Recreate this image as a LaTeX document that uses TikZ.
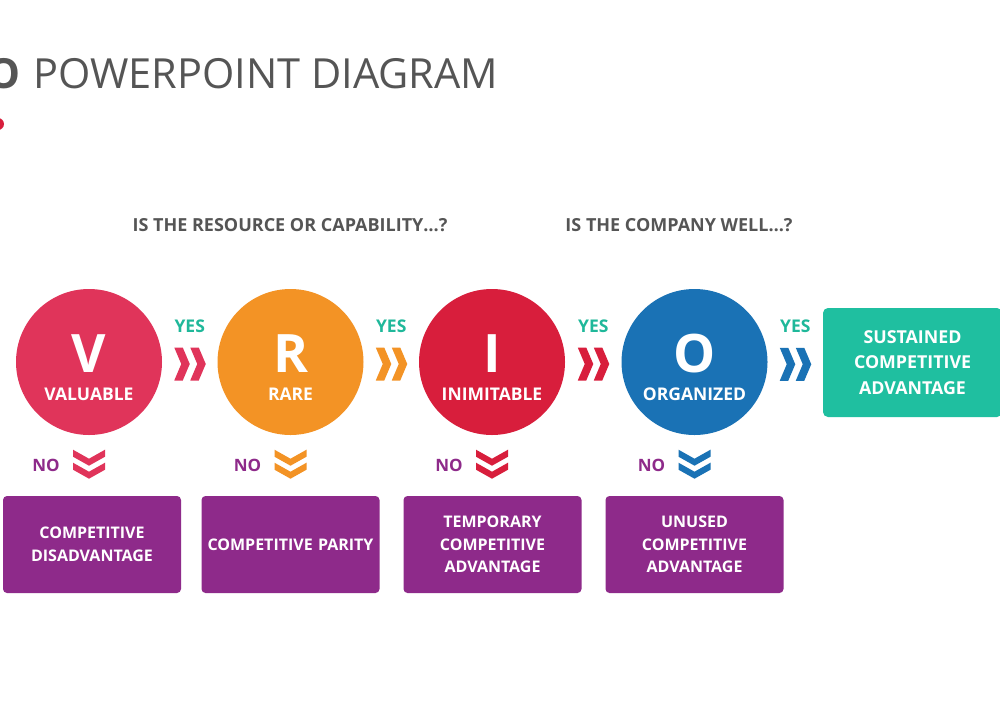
\documentclass[tikz,border=0pt]{standalone}
\usepackage{fontspec}
\setmainfont{Open Sans}
\usetikzlibrary{calc}
\definecolor{cV}{HTML}{E0345A}
\definecolor{cR}{HTML}{F39325}
\definecolor{cI}{HTML}{D81E3C}
\definecolor{cO}{HTML}{1A72B5}
\definecolor{cGreen}{HTML}{1FBFA0}
\definecolor{cPurple}{HTML}{8E2A8A}
\definecolor{cTeal}{HTML}{1FB89A}
\definecolor{cGray}{HTML}{555555}
\begin{document}
\begin{tikzpicture}[x=1pt,y=-1pt,
  letter/.style={text=white,font=\fontsize{53}{53}\selectfont\bfseries,inner sep=0},
  circlabel/.style={text=white,font=\fontsize{17.5}{17.5}\selectfont\bfseries,inner sep=0},
  bigcirc/.style={circle,minimum size=146pt,inner sep=0},
  yeslabel/.style={text=cTeal,font=\fontsize{17.5}{17.5}\selectfont\bfseries,inner sep=0},
  nolabel/.style={text=cPurple,font=\fontsize{17}{17}\selectfont\bfseries,inner sep=0},
  resultbox/.style={fill=cPurple,rounded corners=4pt,minimum width=178pt,minimum height=97pt,
    text width=174pt,align=center,text=white,font=\fontsize{16}{22.5}\selectfont\bfseries,inner sep=0},
  header/.style={text=cGray,font=\fontsize{18}{18}\selectfont\bfseries,inner sep=0},
  pics/rchev/.style={code={
    \foreach \d in {0,16}{
      \fill[#1] (-15.5+\d,-16.5) -- ++(8.5,0) -- ++(7,16.5) -- ++(-7,16.5) -- ++(-8.5,0) -- ++(7,-16.5) -- cycle;}}},
  pics/dchev/.style={code={
    \foreach \d in {0,13}{
      \fill[#1] (-16,-14.5+\d) -- (0,-5.5+\d) -- (16,-14.5+\d) -- (16,-7.5+\d) -- (0,1.5+\d) -- (-16,-7.5+\d) -- cycle;}}}
]
\clip (0,0) rectangle (1000,720);
\fill[white] (0,0) rectangle (1000,720);

% title
\node[anchor=base west,inner sep=0,text=cGray,font=\fontsize{41.5}{41.5}\selectfont] (title) at (33,88) {POWERPOINT DIAGRAM};
\node[anchor=base east,inner sep=0,text=cGray,font=\fontsize{41.5}{41.5}\selectfont\bfseries] (titleo) at (21,88) {O};
\fill[cI] (-2,124) circle (6);

% headers
\node[header] (h1) at (290,225) {IS THE RESOURCE OR CAPABILITY…?};
\node[header] (h2) at (679,225) {IS THE COMPANY WELL…?};

% circles
\node[bigcirc,fill=cV] (v) at (89,362) {};
\node[bigcirc,fill=cR] (r) at (290.5,362) {};
\node[bigcirc,fill=cI] (i) at (492,362) {};
\node[bigcirc,fill=cO] (o) at (694.5,362) {};

\foreach \n/\L/\W in {v/V/VALUABLE,r/R/RARE,i/I/INIMITABLE,o/O/ORGANIZED}{
  \node[letter] (\n-let) at ($(\n.center)+(0,-8)$) {\L};
  \node[circlabel] (\n-lab) at ($(\n.center)+(0,32)$) {\W};
}

% final box
\node[fill=cGreen,rounded corners=5pt,minimum width=179pt,minimum height=109pt,text width=177pt,align=center,
  text=white,font=\fontsize{17.8}{25.5}\selectfont\bfseries,inner sep=0] (sca) at (912.5,362.5)
  {SUSTAINED\\COMPETITIVE\\ADVANTAGE};

% yes chevrons
\pic at ($(v.east)!0.5!(r.west)+(0,2)$) {rchev=cV};
\pic at ($(r.east)!0.5!(i.west)+(0,2)$) {rchev=cR};
\pic at ($(i.east)!0.5!(o.west)+(0,2)$) {rchev=cI};
\pic at ($(o.east)!0.5!(sca.west)+(0,2)$) {rchev=cO};
\node[yeslabel] (y1) at ($(v.east)!0.5!(r.west)+(0,-36)$) {YES};
\node[yeslabel] (y2) at ($(r.east)!0.5!(i.west)+(0,-36)$) {YES};
\node[yeslabel] (y3) at ($(i.east)!0.5!(o.west)+(0,-36)$) {YES};
\node[yeslabel] (y4) at ($(o.east)!0.5!(sca.west)+(0,-36)$) {YES};

% result boxes
\node[resultbox] (b1) at (92,544.5) {COMPETITIVE\\DISADVANTAGE};
\node[resultbox] (b2) at (290.5,544.5) {COMPETITIVE PARITY};
\node[resultbox] (b3) at (492.5,544.5) {TEMPORARY\\COMPETITIVE\\ADVANTAGE};
\node[resultbox] (b4) at (694.5,544.5) {UNUSED\\COMPETITIVE\\ADVANTAGE};

% no chevrons
\foreach \n/\c in {v/cV,r/cR,i/cI,o/cO}{
  \pic at ($(\n.south)+(0,29)$) {dchev=\c};
  \node[nolabel] (\n-no) at ($(\n.south)+(-43,30)$) {NO};
}
\end{tikzpicture}
\end{document}
